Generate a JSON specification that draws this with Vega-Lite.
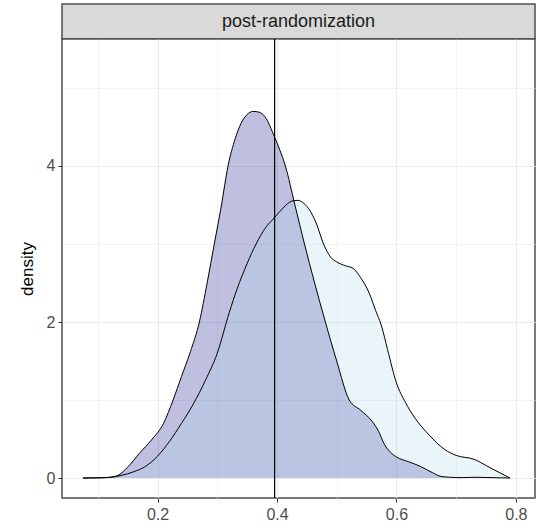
{
  "$schema": "https://vega.github.io/schema/vega-lite/v6.json",
  "padding": {"left": 17, "top": 3, "right": 2, "bottom": 2},
  "background": "white",
  "spacing": 0,
  "bounds": "flush",
  "resolve": {"scale": {"x": "independent", "y": "independent"}},
  "config": {
    "font": "Liberation Sans",
    "concat": {"spacing": 0}
  },
  "datasets": {
    "dens": [
      {"group": "g1", "x": 0.075, "density": 0},
      {"group": "g1", "x": 0.10, "density": 0.003},
      {"group": "g1", "x": 0.12, "density": 0.01},
      {"group": "g1", "x": 0.135, "density": 0.04},
      {"group": "g1", "x": 0.15, "density": 0.14},
      {"group": "g1", "x": 0.17, "density": 0.32},
      {"group": "g1", "x": 0.19, "density": 0.49},
      {"group": "g1", "x": 0.21, "density": 0.70},
      {"group": "g1", "x": 0.226, "density": 1.0},
      {"group": "g1", "x": 0.24, "density": 1.3},
      {"group": "g1", "x": 0.255, "density": 1.62},
      {"group": "g1", "x": 0.27, "density": 2.0},
      {"group": "g1", "x": 0.283, "density": 2.5},
      {"group": "g1", "x": 0.295, "density": 3.0},
      {"group": "g1", "x": 0.307, "density": 3.5},
      {"group": "g1", "x": 0.318, "density": 4.0},
      {"group": "g1", "x": 0.33, "density": 4.35},
      {"group": "g1", "x": 0.34, "density": 4.55},
      {"group": "g1", "x": 0.35, "density": 4.66},
      {"group": "g1", "x": 0.36, "density": 4.70},
      {"group": "g1", "x": 0.37, "density": 4.69},
      {"group": "g1", "x": 0.38, "density": 4.63},
      {"group": "g1", "x": 0.396, "density": 4.37},
      {"group": "g1", "x": 0.405, "density": 4.2},
      {"group": "g1", "x": 0.414, "density": 4.0},
      {"group": "g1", "x": 0.43, "density": 3.5},
      {"group": "g1", "x": 0.446, "density": 3.0},
      {"group": "g1", "x": 0.463, "density": 2.5},
      {"group": "g1", "x": 0.481, "density": 2.0},
      {"group": "g1", "x": 0.50, "density": 1.5},
      {"group": "g1", "x": 0.521, "density": 1.0},
      {"group": "g1", "x": 0.54, "density": 0.87},
      {"group": "g1", "x": 0.56, "density": 0.72},
      {"group": "g1", "x": 0.57, "density": 0.6},
      {"group": "g1", "x": 0.58, "density": 0.43},
      {"group": "g1", "x": 0.59, "density": 0.33},
      {"group": "g1", "x": 0.60, "density": 0.27},
      {"group": "g1", "x": 0.62, "density": 0.21},
      {"group": "g1", "x": 0.64, "density": 0.15},
      {"group": "g1", "x": 0.66, "density": 0.07},
      {"group": "g1", "x": 0.675, "density": 0.02},
      {"group": "g1", "x": 0.69, "density": 0.01},
      {"group": "g1", "x": 0.71, "density": 0.005},
      {"group": "g1", "x": 0.73, "density": 0.01},
      {"group": "g1", "x": 0.76, "density": 0.005},
      {"group": "g1", "x": 0.79, "density": 0},
      {"group": "g2", "x": 0.075, "density": 0},
      {"group": "g2", "x": 0.10, "density": 0.002},
      {"group": "g2", "x": 0.12, "density": 0.008},
      {"group": "g2", "x": 0.14, "density": 0.035},
      {"group": "g2", "x": 0.16, "density": 0.08},
      {"group": "g2", "x": 0.18, "density": 0.15},
      {"group": "g2", "x": 0.20, "density": 0.28},
      {"group": "g2", "x": 0.22, "density": 0.47},
      {"group": "g2", "x": 0.24, "density": 0.70},
      {"group": "g2", "x": 0.26, "density": 0.95},
      {"group": "g2", "x": 0.28, "density": 1.25},
      {"group": "g2", "x": 0.30, "density": 1.6},
      {"group": "g2", "x": 0.32, "density": 2.12},
      {"group": "g2", "x": 0.333, "density": 2.42},
      {"group": "g2", "x": 0.35, "density": 2.75},
      {"group": "g2", "x": 0.365, "density": 3.0},
      {"group": "g2", "x": 0.38, "density": 3.2},
      {"group": "g2", "x": 0.396, "density": 3.34},
      {"group": "g2", "x": 0.41, "density": 3.46},
      {"group": "g2", "x": 0.425, "density": 3.55},
      {"group": "g2", "x": 0.435, "density": 3.56},
      {"group": "g2", "x": 0.445, "density": 3.52},
      {"group": "g2", "x": 0.455, "density": 3.43},
      {"group": "g2", "x": 0.465, "density": 3.28},
      {"group": "g2", "x": 0.478, "density": 3.0},
      {"group": "g2", "x": 0.49, "density": 2.83},
      {"group": "g2", "x": 0.50, "density": 2.77},
      {"group": "g2", "x": 0.515, "density": 2.72},
      {"group": "g2", "x": 0.527, "density": 2.69},
      {"group": "g2", "x": 0.54, "density": 2.57},
      {"group": "g2", "x": 0.555, "density": 2.36},
      {"group": "g2", "x": 0.565, "density": 2.15},
      {"group": "g2", "x": 0.575, "density": 1.95},
      {"group": "g2", "x": 0.585, "density": 1.65},
      {"group": "g2", "x": 0.60, "density": 1.22},
      {"group": "g2", "x": 0.615, "density": 0.97},
      {"group": "g2", "x": 0.63, "density": 0.78},
      {"group": "g2", "x": 0.655, "density": 0.55},
      {"group": "g2", "x": 0.68, "density": 0.37},
      {"group": "g2", "x": 0.70, "density": 0.29},
      {"group": "g2", "x": 0.73, "density": 0.24},
      {"group": "g2", "x": 0.755, "density": 0.14},
      {"group": "g2", "x": 0.775, "density": 0.06},
      {"group": "g2", "x": 0.79, "density": 0}
    ],
    "cutoff": [{"cut": 0.396}],
    "strip": [{"panel": "post-randomization"}]
  },
  "vconcat": [
    {
      "width": 473,
      "height": 35,
      "view": {"fill": "#d9d9d9", "stroke": "#4d4d4d", "strokeWidth": 1.5},
      "data": {"name": "strip"},
      "mark": {"type": "text", "fontSize": 18, "color": "#1a1a1a", "baseline": "middle", "align": "center"},
      "encoding": {
        "x": {"field": "panel", "type": "nominal", "axis": null},
        "text": {"field": "panel"}
      }
    },
    {
      "width": 473,
      "height": 459,
      "view": {"fill": "white", "stroke": "#4d4d4d", "strokeWidth": 1.5},
      "layer": [
        {
          "data": {"name": "dens"},
          "mark": {"type": "area", "opacity": 0.25, "interpolate": "monotone", "clip": true},
          "encoding": {
            "x": {
              "field": "x", "type": "quantitative",
              "scale": {"domain": [0.04, 0.832], "nice": false, "zero": false},
              "axis": {
                "title": null,
                "values": [0.1, 0.2, 0.3, 0.4, 0.5, 0.6, 0.7, 0.8],
                "labelExpr": "round(datum.value*10) % 2 == 0 ? format(datum.value, '.1f') : ''",
                "grid": true,
                "gridColor": "#ebebeb",
                "gridWidth": {"condition": {"test": "round(datum.value*10) % 2 == 1", "value": 0.6}, "value": 1.1},
                "domain": false,
                "ticks": true,
                "tickColor": "#333333",
                "tickSize": 4,
                "tickOpacity": {"condition": {"test": "round(datum.value*10) % 2 == 1", "value": 0}, "value": 1},
                "labelColor": "#4d4d4d",
                "labelFontSize": 16,
                "labelPadding": 4,
                "labelFlush": false,
                "labelOverlap": false
              }
            },
            "y": {
              "field": "density", "type": "quantitative", "stack": null,
              "scale": {"domain": [-0.256, 5.628], "nice": false, "zero": false},
              "axis": {
                "title": "density",
                "titleColor": "#000000",
                "titleFontSize": 17,
                "titleFontWeight": "normal",
                "titlePadding": 10,
                "values": [0, 1, 2, 3, 4, 5],
                "labelExpr": "datum.value % 2 == 0 ? format(datum.value, 'd') : ''",
                "grid": true,
                "gridColor": "#ebebeb",
                "gridWidth": {"condition": {"test": "datum.value % 2 == 1", "value": 0.6}, "value": 1.1},
                "domain": false,
                "tickColor": "#333333",
                "tickSize": 4,
                "tickOpacity": {"condition": {"test": "datum.value % 2 == 1", "value": 0}, "value": 1},
                "labelColor": "#4d4d4d",
                "labelFontSize": 16,
                "labelPadding": 3,
                "labelOverlap": false
              }
            },
            "color": {
              "field": "group", "type": "nominal",
              "scale": {"domain": ["g1", "g2"], "range": ["#000080", "#add8e6"]},
              "legend": null
            }
          }
        },
        {
          "data": {"name": "dens"},
          "mark": {"type": "line", "color": "#000000", "strokeWidth": 1, "interpolate": "monotone", "clip": true},
          "encoding": {
            "x": {"field": "x", "type": "quantitative"},
            "y": {"field": "density", "type": "quantitative"},
            "detail": {"field": "group", "type": "nominal"}
          }
        },
        {
          "data": {"name": "cutoff"},
          "mark": {"type": "rule", "color": "#000000", "strokeWidth": 1.2},
          "encoding": {
            "x": {"field": "cut", "type": "quantitative"}
          }
        }
      ]
    }
  ]
}
